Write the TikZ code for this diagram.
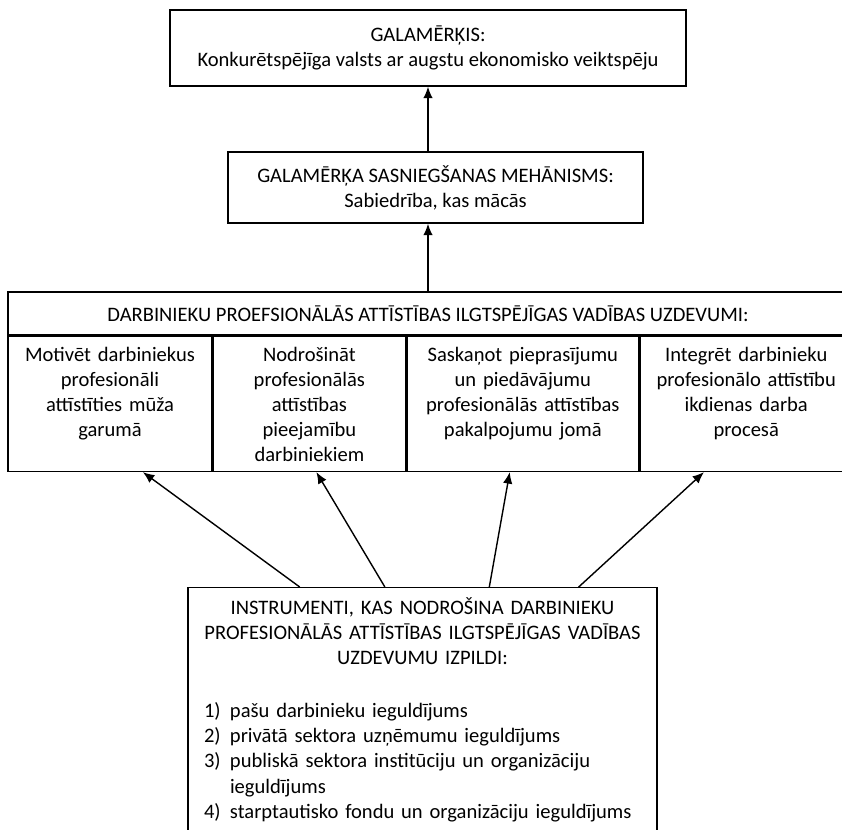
\documentclass[tikz,border=0pt]{standalone}
\usepackage{fontspec}
\setmainfont{Carlito}
\usetikzlibrary{arrows.meta,calc}

\begin{document}
\begin{tikzpicture}[
  every node/.style={font=\fontsize{11.7}{14.3}\selectfont},
  box/.style={draw, line width=0.8pt, align=center},
  taskbox/.style={draw, line width=0.8pt, anchor=north west, align=center,
    inner xsep=0pt, inner ysep=0pt, text height=0.5cm, text depth=2.2cm},
  arr/.style={-{Latex[length=2.3mm,width=1.9mm]}, line width=0.8pt}
]
  \useasboundingbox (0,0) rectangle (16.84,-16.58);
  \clip (0,0) rectangle (16.84,-16.58);
  % goal and mechanism
  \node[box, minimum width=10.32cm, minimum height=1.52cm] (goal) at (8.56,-0.96)
    {GALAMĒRĶIS:\\ Konkurētspējīga valsts ar augstu ekonomisko veiktspēju};
  \node[box, minimum width=8.3cm, minimum height=1.42cm] (mech) at (8.71,-3.75)
    {GALAMĒRĶA SASNIEGŠANAS MEHĀNISMS:\\ Sabiedrība, kas mācās};
  % tasks (right side runs off the page)
  \node[box, minimum width=16.8cm, minimum height=0.86cm] (tasks) at (8.56,-6.27)
    {DARBINIEKU PROEFSIONĀLĀS ATTĪSTĪBAS ILGTSPĒJĪGAS VADĪBAS UZDEVUMI:};
  \node[taskbox, text width=4.08cm] (task1) at (tasks.south west)
    {Motivēt darbiniekus\\ profesionāli\\ attīstīties mūža\\ garumā};
  \node[taskbox, text width=3.84cm] (task2) at (task1.north east)
    {Nodrošināt\\ profesionālās\\ attīstības\\ pieejamību\\ darbiniekiem};
  \node[taskbox, text width=4.64cm] (task3) at (task2.north east)
    {Saskaņot pieprasījumu\\ un piedāvājumu\\ profesionālās attīstības\\ pakalpojumu jomā};
  \node[taskbox, text width=4.24cm] (task4) at (task3.north east)
    {Integrēt darbinieku\\ profesionālo attīstību\\ ikdienas darba\\ procesā};
  % instruments (bottom runs off the page)
  \node[draw, line width=0.8pt, anchor=north, align=center, inner xsep=0.09cm, inner ysep=0pt,
    text width=9.2cm, text height=0.54cm, text depth=5cm] (instr) at (8.45,-11.74)
    {INSTRUMENTI, KAS NODROŠINA DARBINIEKU\\
     PROFESIONĀLĀS ATTĪSTĪBAS ILGTSPĒJĪGAS VADĪBAS\\
     UZDEVUMU IZPILDI:\\[1.1\baselineskip]
     \parbox[t]{9.2cm}{\raggedright\leftskip=0.23cm
       \makebox[0.52cm][l]{1)}pašu darbinieku ieguldījums\\
       \makebox[0.52cm][l]{2)}privātā sektora uzņēmumu ieguldījums\\
       \makebox[0.52cm][l]{3)}publiskā sektora institūciju un organizāciju\\
       \hspace*{0.52cm}ieguldījums\\
       \makebox[0.52cm][l]{4)}starptautisko fondu un organizāciju ieguldījums}};
  % arrows
  \draw[arr] (mech.north -| goal.south) -- (goal.south);
  \draw[arr] (tasks.north -| goal.south) -- (mech.south -| goal.south);
  \draw[arr] ($(instr.north west)!0.239!(instr.north east)$) -- ($(task1.south west)!0.66!(task1.south east)$);
  \draw[arr] ($(instr.north west)!0.42!(instr.north east)$) -- ($(task2.south west)!0.536!(task2.south east)$);
  \draw[arr] ($(instr.north west)!0.642!(instr.north east)$) -- ($(task3.south west)!0.444!(task3.south east)$);
  \draw[arr] ($(instr.north west)!0.832!(instr.north east)$) -- ($(task4.south west)!0.302!(task4.south east)$);
\end{tikzpicture}
\end{document}
